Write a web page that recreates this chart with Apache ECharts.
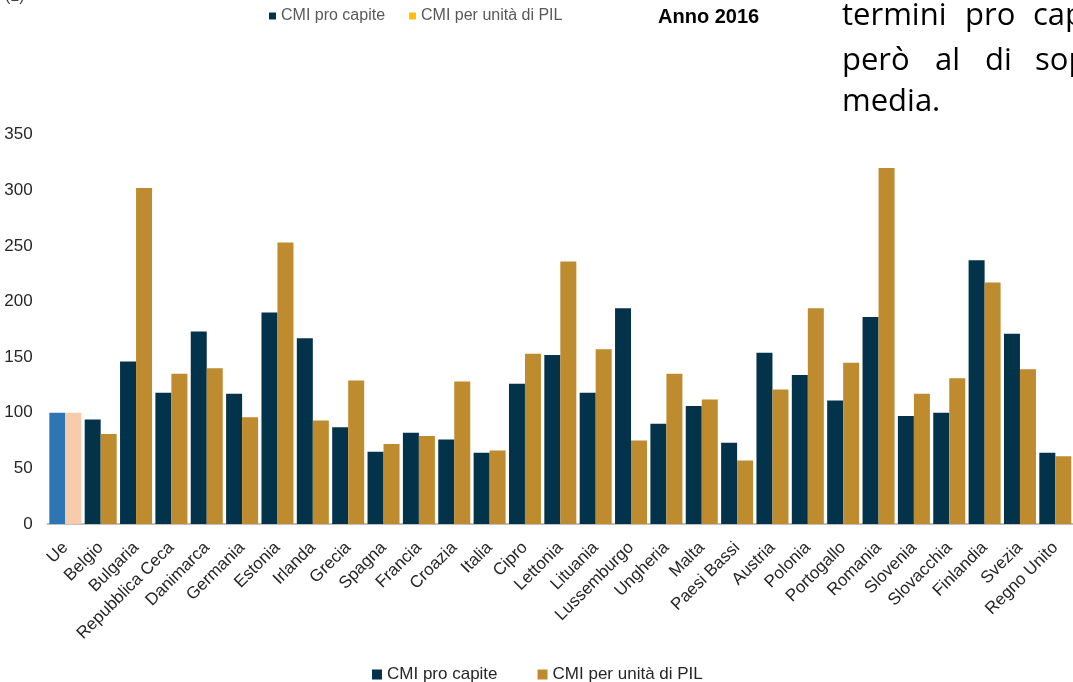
<!DOCTYPE html>
<html>
<head>
<meta charset="utf-8">
<script src="https://cdn.jsdelivr.net/npm/echarts@6/dist/echarts.min.js"></script>
<style>
html,body{margin:0;padding:0;background:#fff;overflow:hidden;}
#c{width:1073px;height:682px;}
</style>
</head>
<body>
<div id="c"></div>
<script>
const categories = ['Ue','Belgio','Bulgaria','Repubblica Ceca','Danimarca','Germania','Estonia','Irlanda','Grecia','Spagna','Francia','Croazia','Italia','Cipro','Lettonia','Lituania','Lussemburgo','Ungheria','Malta','Paesi Bassi','Austria','Polonia','Portogallo','Romania','Slovenia','Slovacchia','Finlandia','Svezia','Regno Unito'];
const cmiProCapite = [100,94,146,118,173,117,190,167,87,65,82,76,64,126,152,118,194,90,106,73,154,134,111,186,97,100,237,171,64];
const cmiPerPil = [100,81,302,135,140,96,253,93,129,72,79,128,66,153,236,157,75,135,112,57,121,194,145,320,117,131,217,139,61];
const yTicks = [0,50,100,150,200,250,300,350];
const seriesNames = ['CMI pro capite','CMI per unità di PIL'];

const NAVY = '#03334B', GOLD = '#BE8B2E', UE_BLUE = '#2E75B6', UE_PEACH = '#F8CBAD';

function withUe(arr, ueColor){
  return arr.map((v,i)=> i===0 ? {value:v, itemStyle:{color:ueColor}} : v);
}

const chart = echarts.init(document.getElementById('c'), null, {renderer:'canvas'});
const bodyFont = '31px "Open Sans"';
chart.setOption({
  animation:false,
  backgroundColor:'#fff',
  grid:{left:47.65, right:-9.9, top:134.6, bottom:158},
  legend:[
    {
      data:[
        {name:seriesNames[0], itemStyle:{color:NAVY}},
        {name:seriesNames[1], itemStyle:{color:'#FFC000'}}
      ],
      left:264, top:3, icon:'rect', itemWidth:7, itemHeight:7, itemGap:24,
      textStyle:{fontFamily:'Liberation Sans', fontSize:16, color:'#595959'},
      selectedMode:false
    },
    {
      data:seriesNames,
      left:367, top:661, icon:'rect', itemWidth:10, itemHeight:10, itemGap:40,
      textStyle:{fontFamily:'Liberation Sans', fontSize:17, color:'#262626'},
      selectedMode:false
    }
  ],
  xAxis:{
    type:'category', data:categories,
    axisLine:{lineStyle:{color:'#BFBFBF', width:2}},
    axisTick:{show:false},
    axisLabel:{interval:0, rotate:45, margin:21, fontFamily:'Liberation Sans', fontSize:17, color:'#262626'}
  },
  yAxis:{
    type:'value', min:yTicks[0], max:yTicks[yTicks.length-1], interval:50,
    axisLine:{show:false}, axisTick:{show:false}, splitLine:{show:false},
    axisLabel:{margin:15, fontFamily:'Liberation Sans', fontSize:17, color:'#262626'}
  },
  series:[
    {name:seriesNames[0], type:'bar', data:withUe(cmiProCapite, UE_BLUE), barWidth:16, barGap:'0%', itemStyle:{color:NAVY}},
    {name:seriesNames[1], type:'bar', data:withUe(cmiPerPil, UE_PEACH), barWidth:16, barGap:'0%', itemStyle:{color:GOLD}}
  ],
  graphic:[
    {type:'text', left:5, top:-11, style:{text:'(1)', font:'16px "Liberation Sans"', fill:'#404040'}},
    {type:'text', x:658, y:17, style:{text:'Anno 2016', font:'bold 20px "Liberation Sans"', fill:'#000', verticalAlign:'middle'}},
    {type:'text', x:842, y:16, style:{text:'termini', font:bodyFont, fill:'#000', verticalAlign:'middle'}},
    {type:'text', x:965, y:16, style:{text:'pro', font:bodyFont, fill:'#000', verticalAlign:'middle'}},
    {type:'text', x:1033, y:16, style:{text:'capite', font:bodyFont, fill:'#000', verticalAlign:'middle'}},
    {type:'text', x:842, y:61, style:{text:'però', font:bodyFont, fill:'#000', verticalAlign:'middle'}},
    {type:'text', x:935, y:61, style:{text:'al', font:bodyFont, fill:'#000', verticalAlign:'middle'}},
    {type:'text', x:985, y:61, style:{text:'di', font:bodyFont, fill:'#000', verticalAlign:'middle'}},
    {type:'text', x:1035, y:61, style:{text:'sopra', font:bodyFont, fill:'#000', verticalAlign:'middle'}},
    {type:'text', x:842, y:102, style:{text:'media.', font:bodyFont, fill:'#000', verticalAlign:'middle'}},
    {type:'rect', x:1075, y:567, rotation:Math.PI/4, shape:{x:0,y:0,width:11,height:11}, style:{fill:'#FF0000'}}
  ]
});
</script>
</body>
</html>
